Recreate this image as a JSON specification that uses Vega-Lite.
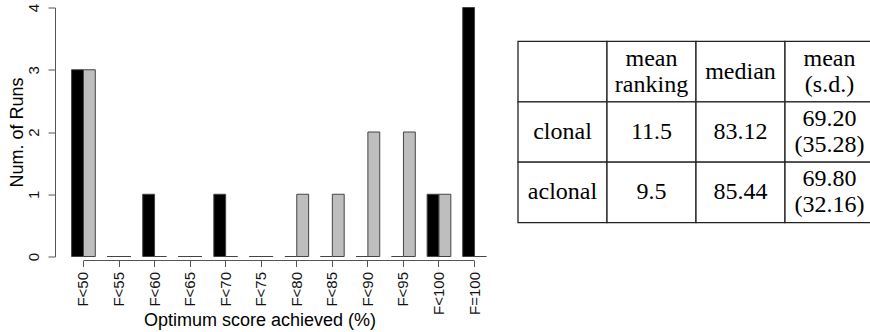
{
  "$schema": "https://vega.github.io/schema/vega-lite/v6.json",
  "background": "white",
  "padding": {"left": 8, "top": 2.5, "right": 0, "bottom": 0},
  "config": {"view": {"stroke": null}},
  "spacing": 14,
  "datasets": {
    "runs": [
      {"bin": "F<50", "series": "clonal", "runs": 3},
      {"bin": "F<50", "series": "aclonal", "runs": 3},
      {"bin": "F<55", "series": "clonal", "runs": 0},
      {"bin": "F<55", "series": "aclonal", "runs": 0},
      {"bin": "F<60", "series": "clonal", "runs": 1},
      {"bin": "F<60", "series": "aclonal", "runs": 0},
      {"bin": "F<65", "series": "clonal", "runs": 0},
      {"bin": "F<65", "series": "aclonal", "runs": 0},
      {"bin": "F<70", "series": "clonal", "runs": 1},
      {"bin": "F<70", "series": "aclonal", "runs": 0},
      {"bin": "F<75", "series": "clonal", "runs": 0},
      {"bin": "F<75", "series": "aclonal", "runs": 0},
      {"bin": "F<80", "series": "clonal", "runs": 0},
      {"bin": "F<80", "series": "aclonal", "runs": 1},
      {"bin": "F<85", "series": "clonal", "runs": 0},
      {"bin": "F<85", "series": "aclonal", "runs": 1},
      {"bin": "F<90", "series": "clonal", "runs": 0},
      {"bin": "F<90", "series": "aclonal", "runs": 2},
      {"bin": "F<95", "series": "clonal", "runs": 0},
      {"bin": "F<95", "series": "aclonal", "runs": 2},
      {"bin": "F<100", "series": "clonal", "runs": 1},
      {"bin": "F<100", "series": "aclonal", "runs": 1},
      {"bin": "F=100", "series": "clonal", "runs": 4},
      {"bin": "F=100", "series": "aclonal", "runs": 0}
    ],
    "table": [
      {"row": "r0", "col": "c0", "single": "", "l1": "", "l2": ""},
      {"row": "r0", "col": "c1", "single": "", "l1": "mean", "l2": "ranking"},
      {"row": "r0", "col": "c2", "single": "median", "l1": "", "l2": ""},
      {"row": "r0", "col": "c3", "single": "", "l1": "mean", "l2": "(s.d.)"},
      {"row": "r1", "col": "c0", "single": "clonal", "l1": "", "l2": ""},
      {"row": "r1", "col": "c1", "single": "11.5", "l1": "", "l2": ""},
      {"row": "r1", "col": "c2", "single": "83.12", "l1": "", "l2": ""},
      {"row": "r1", "col": "c3", "single": "", "l1": "69.20", "l2": "(35.28)"},
      {"row": "r2", "col": "c0", "single": "aclonal", "l1": "", "l2": ""},
      {"row": "r2", "col": "c1", "single": "9.5", "l1": "", "l2": ""},
      {"row": "r2", "col": "c2", "single": "85.44", "l1": "", "l2": ""},
      {"row": "r2", "col": "c3", "single": "", "l1": "69.80", "l2": "(32.16)"}
    ]
  },
  "hconcat": [
    {
      "width": 448,
      "height": 249,
      "layer": [
        {
          "data": {"name": "runs"},
          "mark": {"type": "bar", "stroke": "#444", "strokeWidth": 1},
          "encoding": {
            "x": {
              "field": "bin",
              "type": "nominal",
              "sort": null,
              "scale": {"paddingInner": 0.3333, "paddingOuter": 0.467},
              "axis": {
                "title": "Optimum score achieved (%)",
                "titleFont": "Liberation Sans",
                "titleFontSize": 18,
                "titleFontWeight": "normal",
                "titleColor": "#000",
                "titleX": 204.5,
                "titleY": 65,
                "titleAlign": "center",
                "titleBaseline": "alphabetic",
                "domain": false,
                "ticks": true,
                "tickSize": 6,
                "tickColor": "#555",
                "offset": 4,
                "labelAngle": -90,
                "labelFont": "Liberation Sans",
                "labelFontSize": 15,
                "labelColor": "#111",
                "labelPadding": 5
              }
            },
            "xOffset": {
              "field": "series",
              "type": "nominal",
              "scale": {"domain": ["clonal", "aclonal"], "paddingInner": 0, "paddingOuter": 0}
            },
            "y": {
              "field": "runs",
              "type": "quantitative",
              "scale": {"domain": [0, 4], "nice": false},
              "axis": {
                "title": "Num. of Runs",
                "titleFont": "Liberation Sans",
                "titleFontSize": 18,
                "titleFontWeight": "normal",
                "titleColor": "#000",
                "titlePadding": 4,
                "minExtent": 25,
                "maxExtent": 25,
                "values": [0, 1, 2, 3, 4],
                "format": "d",
                "grid": false,
                "domainColor": "#555",
                "tickColor": "#555",
                "tickSize": 7,
                "labelAngle": -90,
                "labelAlign": "center",
                "labelBaseline": "bottom",
                "labelFont": "Liberation Sans",
                "labelFontSize": 15,
                "labelColor": "#111",
                "labelPadding": 7
              }
            },
            "color": {
              "field": "series",
              "type": "nominal",
              "scale": {"domain": ["clonal", "aclonal"], "range": ["#000000", "#bebebe"]},
              "legend": null
            }
          }
        },
        {
          "data": {"values": [{}]},
          "mark": {"type": "rule", "color": "#555", "strokeWidth": 1, "yOffset": 4},
          "encoding": {
            "x": {"datum": "F<50", "type": "nominal"},
            "x2": {"datum": "F=100"},
            "y": {"datum": 0, "type": "quantitative"}
          }
        }
      ]
    },
    {
      "width": 356,
      "height": 249,
      "data": {"name": "table"},
      "encoding": {
        "x": {"field": "col", "type": "nominal", "axis": null, "scale": {"paddingInner": 0, "paddingOuter": 0}},
        "y": {"field": "row", "type": "nominal", "axis": null, "scale": {"paddingInner": 0, "paddingOuter": 0.56}}
      },
      "layer": [
        {
          "mark": {"type": "rect", "fill": "white", "stroke": "#222", "strokeWidth": 1.3}
        },
        {
          "mark": {"type": "text", "font": "Liberation Serif", "fontSize": 24, "align": "center", "baseline": "middle", "color": "#000"},
          "encoding": {"text": {"field": "single"}}
        },
        {
          "mark": {"type": "text", "font": "Liberation Serif", "fontSize": 24, "align": "center", "baseline": "middle", "color": "#000", "dy": -13},
          "encoding": {"text": {"field": "l1"}}
        },
        {
          "mark": {"type": "text", "font": "Liberation Serif", "fontSize": 24, "align": "center", "baseline": "middle", "color": "#000", "dy": 13},
          "encoding": {"text": {"field": "l2"}}
        }
      ]
    }
  ]
}
